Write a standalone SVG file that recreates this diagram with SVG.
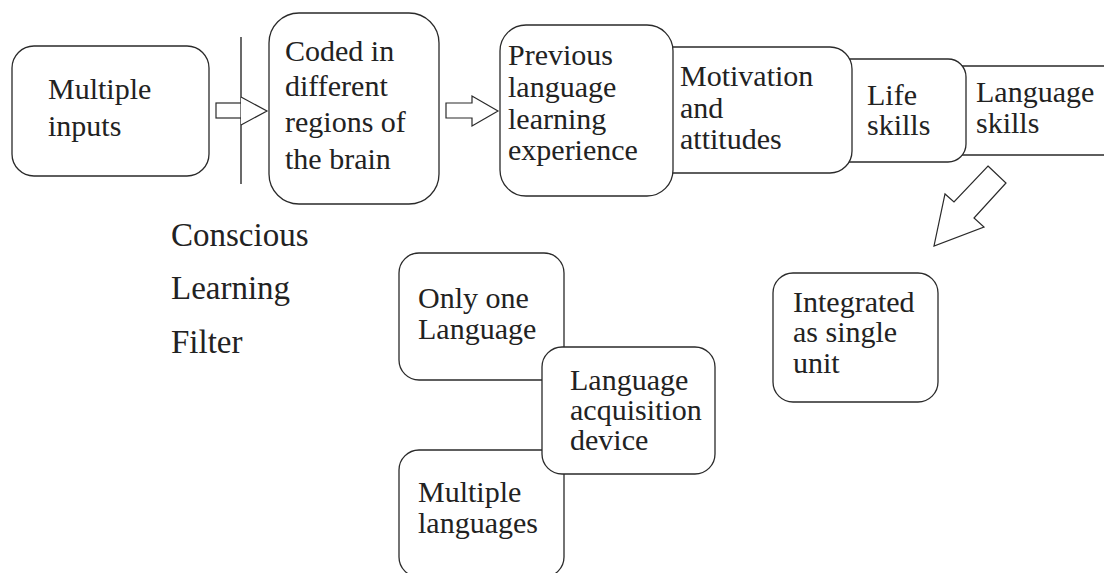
<svg xmlns="http://www.w3.org/2000/svg" width="1104" height="573" viewBox="0 0 1104 573">
  <style>
    .box { fill: #ffffff; stroke: #2a2a2a; stroke-width: 1.3; }
    .arrow { fill: #ffffff; stroke: #2a2a2a; stroke-width: 1.2; stroke-linejoin: miter; }
    text { fill: #222222; }
    .lbl { font-size: 30px; }
    .side { font-size: 33px; }
  </style>
  <rect width="1104" height="573" fill="#ffffff"/>

  <g font-family="Liberation Serif, serif">
  <!-- input stage -->
  <g id="multiple-inputs">
    <rect class="box" x="12" y="46" width="197" height="130" rx="22"/>
    <text class="lbl" x="48" y="99">Multiple</text>
    <text class="lbl" x="48" y="136">inputs</text>
  </g>

  <!-- filter bar and flow arrows -->
  <g id="connectors">
    <line x1="241" y1="37" x2="241" y2="184" stroke="#2a2a2a" stroke-width="1.4"/>
    <rect class="arrow" x="216" y="103" width="25" height="15"/>
    <polyline class="arrow" points="241,97 267,111 241,125" fill="none"/>
    <polygon class="arrow" points="446,103 472,103 472,96 498,111 472,126 472,118 446,118"/>
    <polygon class="arrow" points="988,166 1006,183 974,218 984,227 934,246 945,194 954,202"/>
  </g>

  <g id="coded-in-brain">
    <rect class="box" x="269" y="13" width="170" height="191" rx="30"/>
    <text class="lbl" x="285" y="61">Coded in</text>
    <text class="lbl" x="285" y="96">different</text>
    <text class="lbl" x="285" y="132">regions of</text>
    <text class="lbl" x="285" y="169">the brain</text>
  </g>

  <!-- overlapping strip of factors, drawn right to left -->
  <g id="language-skills">
    <rect class="box" x="940" y="66" width="190" height="89" rx="20"/>
    <text class="lbl" x="976" y="102">Language</text>
    <text class="lbl" x="976" y="133">skills</text>
  </g>
  <g id="life-skills">
    <rect class="box" x="830" y="59" width="136" height="103" rx="18"/>
    <text class="lbl" x="867" y="105">Life</text>
    <text class="lbl" x="867" y="135">skills</text>
  </g>
  <g id="motivation">
    <rect class="box" x="650" y="47" width="202" height="126" rx="22"/>
    <text class="lbl" x="680" y="86">Motivation</text>
    <text class="lbl" x="680" y="118">and</text>
    <text class="lbl" x="680" y="149">attitudes</text>
  </g>
  <g id="previous-experience">
    <rect class="box" x="500" y="25" width="173" height="171" rx="26"/>
    <text class="lbl" x="508" y="65">Previous</text>
    <text class="lbl" x="508" y="97">language</text>
    <text class="lbl" x="508" y="129">learning</text>
    <text class="lbl" x="508" y="160">experience</text>
  </g>

  <g id="filter-label">
    <text class="side" x="171" y="246">Conscious</text>
    <text class="side" x="171" y="299">Learning</text>
    <text class="side" x="171" y="353">Filter</text>
  </g>

  <g id="integrated">
    <rect class="box" x="773" y="273" width="165" height="129" rx="20"/>
    <text class="lbl" x="793" y="312">Integrated</text>
    <text class="lbl" x="793" y="342">as single</text>
    <text class="lbl" x="793" y="373">unit</text>
  </g>

  <!-- acquisition device cluster -->
  <g id="only-one-language">
    <rect class="box" x="399" y="253" width="165" height="127" rx="20"/>
    <text class="lbl" x="418" y="308">Only one</text>
    <text class="lbl" x="418" y="339">Language</text>
  </g>
  <g id="multiple-languages">
    <rect class="box" x="399" y="450" width="165" height="127" rx="20"/>
    <text class="lbl" x="418" y="502">Multiple</text>
    <text class="lbl" x="418" y="533">languages</text>
  </g>
  <g id="acquisition-device">
    <rect class="box" x="542" y="347" width="173" height="127" rx="20"/>
    <text class="lbl" x="570" y="390">Language</text>
    <text class="lbl" x="570" y="420">acquisition</text>
    <text class="lbl" x="570" y="450">device</text>
  </g>
  </g>
</svg>
